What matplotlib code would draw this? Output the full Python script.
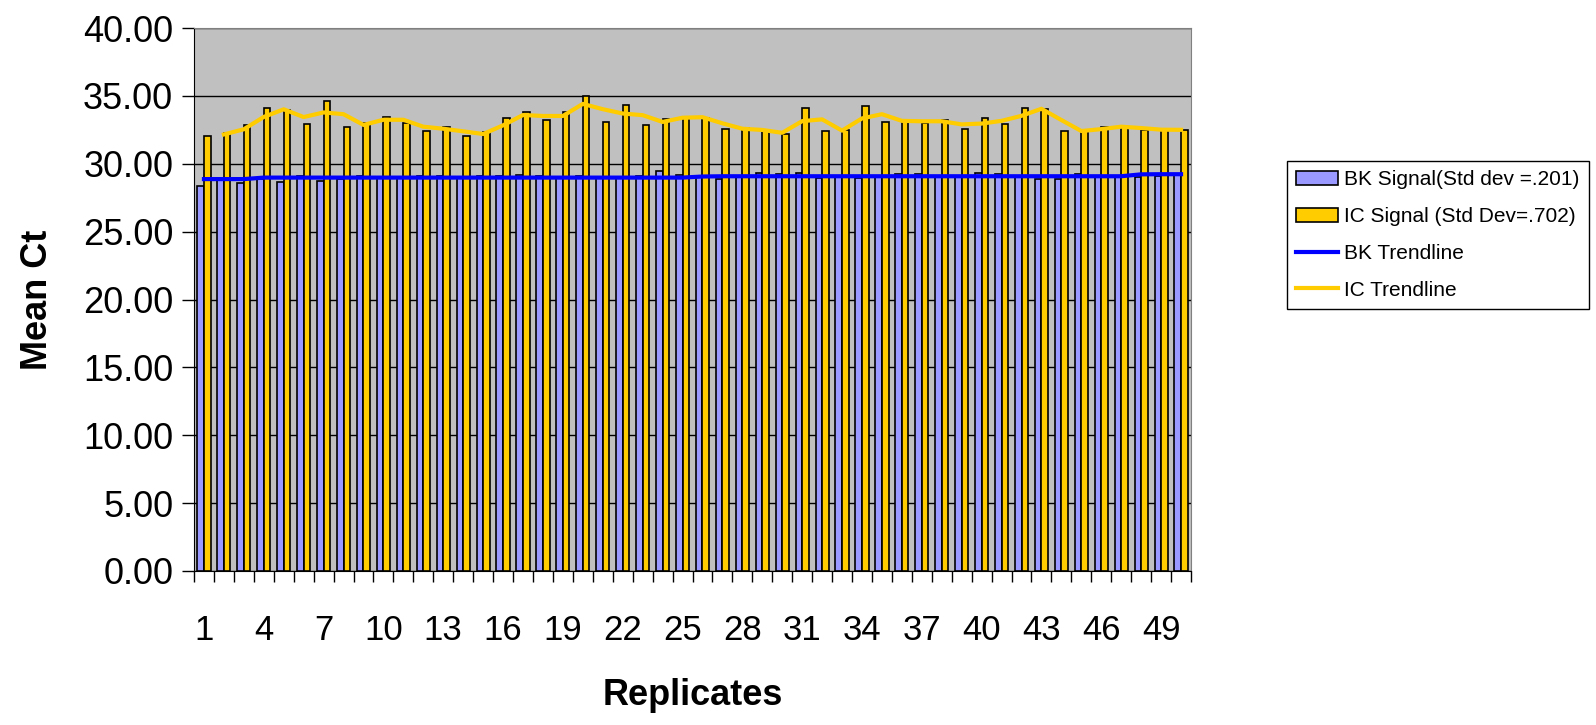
import numpy as np
import matplotlib.pyplot as plt
from matplotlib.ticker import FixedLocator, FormatStrFormatter

plt.rcParams['font.family'] = ['Liberation Sans', 'DejaVu Sans']

# ---------------- data ----------------
replicates = list(range(1, 51))

bk_signal = [28.33, 28.90, 28.57, 28.90, 28.67, 29.10, 28.70, 28.90, 29.10, 29.00,
             29.00, 29.10, 29.10, 29.00, 29.10, 29.10, 29.20, 29.08, 29.00, 29.10,
             29.00, 29.00, 29.10, 29.47, 29.20, 29.00, 28.84, 29.10, 29.35, 29.25,
             29.35, 28.95, 29.00, 28.98, 29.10, 29.25, 29.25, 29.00, 29.10, 29.35,
             29.25, 29.00, 28.84, 28.87, 29.25, 29.00, 29.00, 29.00, 29.10, 29.20]

ic_signal = [32.06, 32.26, 32.82, 34.08, 33.93, 32.94, 34.61, 32.69, 33.03, 33.45,
             33.03, 32.43, 32.72, 32.06, 32.31, 33.35, 33.83, 33.20, 33.83, 34.98,
             33.06, 34.34, 32.82, 33.33, 33.45, 33.40, 32.55, 32.60, 32.38, 32.18,
             34.10, 32.43, 32.45, 34.22, 33.08, 33.23, 33.03, 33.23, 32.57, 33.35,
             32.96, 34.10, 34.00, 32.43, 32.38, 32.72, 32.74, 32.52, 32.50, 32.50]

bk_trend = [28.87, 28.87, 28.87, 28.98, 28.98, 28.98, 28.98, 28.98, 28.98, 28.98,
            28.98, 28.98, 28.98, 28.98, 28.98, 28.98, 28.98, 28.98, 28.98, 28.98,
            28.98, 28.98, 28.98, 28.98, 28.98, 29.06, 29.08, 29.08, 29.08, 29.08,
            29.08, 29.08, 29.08, 29.08, 29.08, 29.08, 29.08, 29.08, 29.08, 29.08,
            29.08, 29.08, 29.08, 29.08, 29.08, 29.08, 29.08, 29.22, 29.23, 29.23]

# IC trendline: 2-point moving average, begins at replicate 2
ic_trend_x = list(range(2, 51))
ic_trend = [32.16, 32.54, 33.45, 34.01, 33.44, 33.78, 33.65, 32.86, 33.24,
            33.24, 32.73, 32.58, 32.39, 32.19, 32.83, 33.59, 33.52, 33.52, 34.41,
            34.02, 33.70, 33.58, 33.08, 33.39, 33.43, 32.98, 32.58, 32.49, 32.28,
            33.14, 33.27, 32.44, 33.34, 33.65, 33.16, 33.13, 33.13, 32.90, 32.96,
            33.16, 33.53, 34.05, 33.22, 32.41, 32.55, 32.73, 32.63, 32.51, 32.50]

tick_labels = [str(i) for i in range(1, 51, 3)]

# ---------------- plot ----------------
fig = plt.figure(figsize=(15.96, 7.25), dpi=100)
ax = fig.add_axes([194/1596, 1 - 571/725, 997/1596, 543/725])
ax.set_facecolor('#C0C0C0')

x = np.array(replicates)
w = 0.33
b1 = ax.bar(x - w/2, bk_signal, w, color='#9999FF', edgecolor='black', linewidth=1.2,
            label='BK Signal(Std dev =.201)', zorder=2)
b2 = ax.bar(x + w/2, ic_signal, w, color='#FFCC00', edgecolor='black', linewidth=1.2,
            label='IC Signal (Std Dev=.702)', zorder=2)
l1, = ax.plot(replicates, bk_trend, color='#0000FF', linewidth=3, label='BK Trendline', zorder=3)
l2, = ax.plot(ic_trend_x, ic_trend, color='#FFCC00', linewidth=3, label='IC Trendline', zorder=3)

ax.set_xlim(0.5, 50.5)
ax.set_ylim(0, 40)
ax.set_yticks(np.arange(0, 41, 5))
ax.yaxis.set_major_formatter(FormatStrFormatter('%.2f'))
ax.grid(axis='y', color='black', linewidth=1)
ax.set_axisbelow(True)

# category labels every 3rd replicate, tick marks at category boundaries
ax.xaxis.set_major_locator(FixedLocator(range(1, 51, 3)))
ax.set_xticklabels(tick_labels)
ax.xaxis.set_minor_locator(FixedLocator(np.arange(0.5, 51, 1)))
ax.tick_params(axis='x', which='major', length=0, pad=31, labelsize=25)
ax.tick_params(axis='x', which='minor', length=8, width=1, direction='out')
ax.tick_params(axis='y', length=9, width=1, direction='out', pad=6, labelsize=26)

for s in ['top', 'right']:
    ax.spines[s].set_color('#808080')
for s in ['left', 'bottom']:
    ax.spines[s].set_color('black')

ax.set_ylabel('Mean Ct', fontsize=26, fontweight='bold')
ax.set_xlabel('Replicates', fontsize=26, fontweight='bold')
ax.yaxis.set_label_coords(-0.139, 0.5)
ax.xaxis.set_label_coords(0.5, -0.197)

leg = ax.legend(handles=[b1, b2, l1, l2], loc='upper left',
                bbox_to_anchor=(1287/1596, 1 - 161/725),
                bbox_transform=fig.transFigure, fontsize=15, frameon=True,
                fancybox=False, edgecolor='black', framealpha=1,
                handlelength=2.0, handleheight=0.62, handletextpad=0.3,
                labelspacing=0.85, borderpad=0.45, borderaxespad=0)
leg.get_frame().set_linewidth(1)

plt.savefig('out.png', dpi=100)
plt.close()
